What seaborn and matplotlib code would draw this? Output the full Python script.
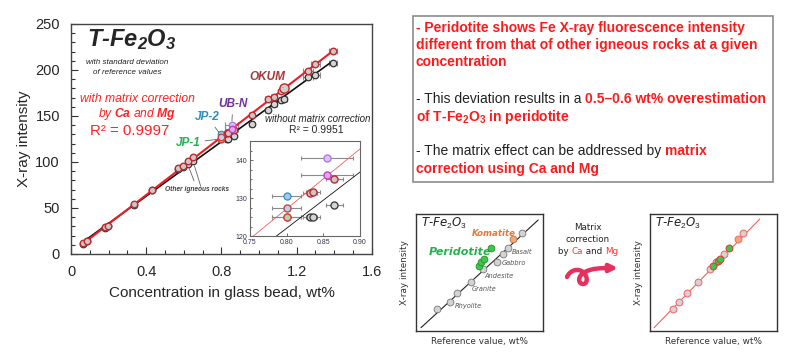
import numpy as np
import matplotlib
matplotlib.use("Agg")
import matplotlib.pyplot as plt
from matplotlib.patches import Rectangle, FancyArrowPatch
from matplotlib.path import Path
from matplotlib.ticker import MultipleLocator, FuncFormatter
import seaborn as sns

sns.set_style("white")
plt.rcParams['font.family'] = ['Liberation Sans', 'DejaVu Sans']
plt.rcParams['mathtext.fontset'] = 'custom'
plt.rcParams['mathtext.rm'] = 'Liberation Sans'
plt.rcParams['mathtext.it'] = 'Liberation Sans:italic'
plt.rcParams['mathtext.bf'] = 'Liberation Sans:bold'
plt.rcParams['mathtext.bfit'] = 'Liberation Sans:italic:bold'

##############################################################################
# data
##############################################################################
# other igneous rocks: concentration (wt%), intensity with / without correction
conc_other = [0.065, 0.087, 0.182, 0.198, 0.334, 0.432, 0.570, 0.596, 0.623,
              0.650, 0.832, 0.836, 0.865, 0.960, 1.046, 1.080, 1.119, 1.260,
              1.299, 1.393]
corr_other = [11.6, 14.5, 29.0, 30.4, 54.3, 69.6, 93.8, 96.0, 100.7, 105.0,
              131.3, 131.6, 135.0, 151.0, 168.5, 171.0, 177.5, 199.0, 206.0,
              221.0]
raw_other = [11.0, 14.0, 28.5, 30.0, 53.5, 69.0, 92.0, 94.0, 97.5, 100.5,
             125.0, 125.1, 128.3, 141.0, 156.5, 163.0, 167.4, 192.0, 194.6,
             207.0]
xerr_other = [0.003, 0.003, 0.004, 0.004, 0.005, 0.005, 0.006, 0.006, 0.006,
              0.006, 0.010, 0.010, 0.012, 0.012, 0.012, 0.015, 0.015, 0.025,
              0.025, 0.020]

# named reference samples
samples = ['JP-1', 'JP-2', 'UB-N', 'OKUM']
conc_named = [0.800, 0.800, 0.855, 1.133]
corr_named = [125.0, 127.5, 136.0, 180.0]
raw_named = [125.0, 130.5, 140.5, 168.0]
xerr_named = [0.020, 0.020, 0.035, 0.015]
face_raw = ['#a9dba0', '#9fcbe8', '#dcc2f5', '#d4d4d4']
face_corr = ['#a9dba0', '#b8d4ea', '#e2a6ee', '#d0d0d0']
edge_raw = ['#777777', '#3a8fc0', '#b070e0', '#333333']
edge_corr = ['#d04040', '#d04040', '#c040c0', '#c0282d']
label_col = ['#22b14c', '#2f8cc0', '#7030a0', '#a33a3a']
label_pos = [(0.622, 120.6), (0.723, 149.0), (0.861, 163.0), (1.042, 192.0)]
label_tip = [(0.795, 125.0), (0.795, 130.0), (0.855, 141.5), (1.128, 181.0)]

# schematic panels (axes fraction)
sch_x = [0.168, 0.267, 0.319, 0.432, 0.524, 0.634, 0.686, 0.725, 0.830]
sch_y = [0.191, 0.245, 0.328, 0.419, 0.527, 0.593, 0.655, 0.712, 0.840]
sch_names = ['Rhyolite', 'Granite', 'Andesite', 'Gabbro', 'Basalt']
sch_name_xy = [(0.306, 0.217), (0.437, 0.356), (0.534, 0.473), (0.673, 0.578),
               (0.751, 0.672)]
perid_x = [0.495, 0.508, 0.537, 0.589]
perid_y = [0.558, 0.590, 0.615, 0.707]
koma_xy = (0.759, 0.786)

cor_x = [0.179, 0.226, 0.289, 0.374, 0.468, 0.521, 0.579, 0.732]
cor_y = [0.191, 0.245, 0.328, 0.419, 0.527, 0.587, 0.655, 0.840]
cor_perid_x = [0.492, 0.532, 0.553, 0.624]
cor_perid_y = [0.558, 0.595, 0.618, 0.707]
cor_koma_xy = (0.692, 0.786)

##############################################################################
# figure
##############################################################################
fig = plt.figure(figsize=(8, 3.54), dpi=100)
fig.patch.set_facecolor('white')
rend = fig.canvas.get_renderer()


def colored_line(x, y, parts, size, family=None, ha='left'):
    # place several differently styled pieces of text one after another
    kw = {} if family is None else {'family': family}
    widths = []
    for s, c, wt in parts:
        t1 = fig.text(0, 0, s + '|', fontsize=size, fontweight=wt, **kw)
        t2 = fig.text(0, 0, '|', fontsize=size, fontweight=wt, **kw)
        wd = t1.get_window_extent(rend).width - t2.get_window_extent(rend).width
        t1.remove()
        t2.remove()
        widths.append(wd / fig.bbox.width)
    cur = x - sum(widths) / 2 if ha == 'center' else x
    for (s, c, wt), wd in zip(parts, widths):
        fig.text(cur, y, s, color=c, fontsize=size, fontweight=wt,
                 va='center', ha='left', **kw)
        cur += wd


def draw_data(ax, lw_line, s_pt, s_big, cap):
    conc_all = np.array(conc_other + conc_named)
    fit_c = np.polyfit(conc_all, corr_other + corr_named, 1)
    fit_r = np.polyfit(conc_all, raw_other + raw_named, 1)
    xs = np.array([conc_all.min(), conc_all.max()])
    for yy, ee in ((raw_other, xerr_other), (corr_other, xerr_other),
                   (raw_named, xerr_named), (corr_named, xerr_named)):
        cc = conc_other if len(yy) == len(conc_other) else conc_named
        ax.errorbar(cc, yy, xerr=ee, fmt='none', ecolor='#8a8a8a',
                    elinewidth=0.8, capsize=cap, capthick=0.8, zorder=1)
    sns.lineplot(x=xs + [0.015, 0], y=np.polyval(fit_r, xs + [0.015, 0]),
                 color='#111111', lw=lw_line[0], ax=ax, zorder=2)
    sns.lineplot(x=xs, y=np.polyval(fit_c, xs), color=lw_line[2],
                 lw=lw_line[1], ax=ax, zorder=2)
    sns.scatterplot(x=conc_other, y=raw_other, s=s_pt, color='#d4d4d4',
                    edgecolor='#333333', linewidth=0.9, ax=ax, zorder=3,
                    legend=False)
    sns.scatterplot(x=conc_other, y=corr_other, s=s_pt, color='#c8c8c8',
                    edgecolor='#c0282d', linewidth=1.0, ax=ax, zorder=4,
                    legend=False)
    for i in range(len(samples)):
        size = s_big if samples[i] == 'OKUM' else s_pt
        sns.scatterplot(x=[conc_named[i]], y=[raw_named[i]], s=s_pt,
                        color=face_raw[i], edgecolor=edge_raw[i],
                        linewidth=0.9, ax=ax, zorder=3, legend=False)
        sns.scatterplot(x=[conc_named[i]], y=[corr_named[i]], s=size,
                        color=face_corr[i], edgecolor=edge_corr[i],
                        linewidth=1.0, ax=ax, zorder=5, legend=False)


# ---------------------------------------------------------------- main plot
ax = fig.add_axes([0.0888, 0.2825, 0.376, 0.65])
draw_data(ax, (1.2, 1.5, '#ee1c24'), 22, 44, 2)
ax.set_xlim(0, 1.6)
ax.set_ylim(0, 250)
ax.xaxis.set_major_locator(MultipleLocator(0.4))
ax.xaxis.set_minor_locator(MultipleLocator(0.1))
ax.yaxis.set_major_locator(MultipleLocator(50))
ax.yaxis.set_minor_locator(MultipleLocator(10))
ax.xaxis.set_major_formatter(FuncFormatter(
    lambda v, p: '0' if abs(v) < 1e-9 else f'{v:.1f}'))
ax.tick_params(which='both', direction='in', width=0.8, color='#333333',
               labelsize=10.5, pad=8, bottom=True, left=True)
ax.tick_params(which='major', length=5)
ax.tick_params(which='minor', length=3)
for sp in ax.spines.values():
    sp.set_color('#444444')
    sp.set_linewidth(1.0)
ax.set_xlabel('Concentration in glass bead, wt%', fontsize=11, labelpad=5)
ax.set_ylabel('X-ray intensity', fontsize=11, labelpad=3)

ax.text(0.324, 232.6, r'T-Fe$_{\mathbfit{2}}$O$_{\mathbfit{3}}$', fontsize=17,
        fontweight='bold', style='italic', ha='center', va='center')
ax.text(0.298, 207.6, 'with standard deviation', fontsize=5.8,
        style='italic', ha='center', va='center', color='#222222')
ax.text(0.298, 196.7, 'of reference values', fontsize=5.8, style='italic',
        ha='center', va='center', color='#222222')
ax.text(0.351, 168.5, 'with matrix correction', fontsize=8.7, style='italic',
        color='#ff2020', ha='center', va='center')
ax.text(0.351, 152.2, r'by $\mathbfit{Ca}$ and $\mathbfit{Mg}$', fontsize=8.7,
        style='italic', color='#ff2020', ha='center', va='center')
ax.text(0.314, 133.7, 'R² = 0.9997', fontsize=10.8, color='#ff2020',
        ha='center', va='center')
ax.text(1.313, 146.7, 'without matrix correction', fontsize=7,
        style='italic', ha='center', va='center')
ax.text(1.302, 134.8, 'R² = 0.9951', fontsize=7.5, ha='center', va='center')

for i in range(len(samples)):
    ax.annotate(samples[i], xy=label_tip[i], xytext=label_pos[i],
                fontsize=8.5, fontweight='bold', style='italic',
                color=label_col[i], ha='center', va='center', zorder=6,
                arrowprops=dict(arrowstyle='-', color='#666666', lw=0.6,
                                shrinkA=1, shrinkB=2))
ax.annotate('Other igneous rocks', xy=(0.623, 96.5), xytext=(0.67, 70.6),
            fontsize=4.8, fontweight='bold', style='italic', color='#444444',
            ha='center', va='center', zorder=6,
            arrowprops=dict(arrowstyle='-', color='#666666', lw=0.6,
                            shrinkA=1, shrinkB=2))
ax.annotate('', xy=(0.652, 98.5), xytext=(0.69, 73.5),
            arrowprops=dict(arrowstyle='-', color='#666666', lw=0.6,
                            shrinkA=0, shrinkB=2))

# ---------------------------------------------------------------- inset
axi = fig.add_axes([0.3125, 0.3333, 0.1375, 0.268])
axi.set_facecolor('white')
draw_data(axi, (0.6, 0.6, '#f06060'), 26, 26, 1.5)
axi.set_xlim(0.75, 0.90)
axi.set_ylim(120, 145)
axi.set_xticks([0.75, 0.80, 0.85, 0.90])
axi.set_xticklabels(['0.75', '0.80', '0.85', '0.90'])
axi.set_yticks([120, 130, 140])
axi.yaxis.set_minor_locator(MultipleLocator(2.5))
axi.tick_params(which='both', direction='in', labelsize=5, pad=2,
                labelcolor='#33334a', color='#555555', width=0.6,
                bottom=True, left=True)
axi.tick_params(which='major', length=2.5)
axi.tick_params(which='minor', length=1.5)
for sp in axi.spines.values():
    sp.set_color('#666666')
    sp.set_linewidth(0.8)
axi.set_xlabel('')
axi.set_ylabel('')

# ---------------------------------------------------------------- text box
fig.add_artist(Rectangle((0.516, 0.486), 0.45, 0.469, transform=fig.transFigure,
                         fill=False, edgecolor='#8c8c8c', lw=1.2))
red = '#ff1a1a'
bx = 0.52
fs = 10
colored_line(bx, 1 - 28 / 354,
             [('- Peridotite shows Fe X-ray fluorescence intensity', red, 'bold')], fs)
colored_line(bx, 1 - 45 / 354,
             [('different from that of other igneous rocks at a given', red, 'bold')], fs)
colored_line(bx, 1 - 62 / 354, [('concentration', red, 'bold')], fs)
colored_line(bx, 1 - 99 / 354,
             [('- This deviation results in a ', '#222222', 'normal'),
              ('0.5\u20130.6 wt% overestimation', red, 'bold')], fs)
colored_line(bx, 1 - 117 / 354,
             [(r'of T-Fe$_{\mathbf{2}}$O$_{\mathbf{3}}$ in peridotite', red, 'bold')], fs)
colored_line(bx, 1 - 151 / 354,
             [('- The matrix effect can be addressed by ', '#222222', 'normal'),
              ('matrix', red, 'bold')], fs)
colored_line(bx, 1 - 169 / 354, [('correction using Ca and Mg', red, 'bold')], fs)

# ---------------------------------------------------------------- schematics
dj = 'DejaVu Sans'
grey_txt = '#555555'

axl = fig.add_axes([0.52, 0.065, 0.159, 0.3305])
axr = fig.add_axes([0.8125, 0.065, 0.159, 0.3305])
for a in (axl, axr):
    a.set_xlim(0, 1)
    a.set_ylim(0, 1)
    a.set_xticks([])
    a.set_yticks([])
    for sp in a.spines.values():
        sp.set_color('#333333')
        sp.set_linewidth(1.0)
    a.set_xlabel('Reference value, wt%', fontsize=6.4, family=dj,
                 color='#333333', labelpad=4)
    a.set_ylabel('X-ray intensity', fontsize=6.4, family=dj, color='#333333',
                 labelpad=5)
    a.text(0.04, 0.915, r'T-Fe$_{\mathit{2}}$O$_{\mathit{3}}$', fontsize=8.5,
           family=dj, style='italic', ha='left', va='center', color='#222222')

sns.lineplot(x=[0.039, 0.961], y=[0.028, 0.949], color='#222222', lw=0.8,
             ax=axl)
sns.scatterplot(x=sch_x, y=sch_y, s=24, color='#d3d3d3', edgecolor='#777777',
                linewidth=0.6, ax=axl, zorder=3, legend=False)
sns.scatterplot(x=[koma_xy[0]], y=[koma_xy[1]], s=24, color='#f4a77a',
                edgecolor='#c07040', linewidth=0.6, ax=axl, zorder=3,
                legend=False)
sns.scatterplot(x=perid_x, y=perid_y, s=24, color='#3cc84a',
                edgecolor='#2a8a30', linewidth=0.6, ax=axl, zorder=4,
                legend=False)
for nm, (tx, ty) in zip(sch_names, sch_name_xy):
    axl.text(tx, ty, nm, fontsize=4.8, family=dj, style='italic',
             color=grey_txt, ha='left', va='center')
axl.text(0.437, 0.835, 'Komatite', fontsize=6.2, family=dj,
         style='italic', fontweight='bold', color='#e07a3c', ha='left',
         va='center')
axl.text(0.097, 0.672, 'Peridotite', fontsize=8, family=dj, style='italic',
         fontweight='bold', color='#22b14c', ha='left', va='center')

sns.lineplot(x=[0.032, 0.863], y=[0.028, 0.957], color='#f06060', lw=0.8,
             ax=axr)
sns.scatterplot(x=cor_x, y=cor_y, s=24, color='#d3d3d3', edgecolor='#f07070',
                linewidth=0.8, ax=axr, zorder=3, legend=False)
sns.scatterplot(x=[cor_koma_xy[0]], y=[cor_koma_xy[1]], s=24, color='#f4a77a',
                edgecolor='#f07070', linewidth=0.8, ax=axr, zorder=3,
                legend=False)
sns.scatterplot(x=cor_perid_x, y=cor_perid_y, s=24, color='#3cc84a',
                edgecolor='#e04040', linewidth=0.8, ax=axr, zorder=4,
                legend=False)

# middle label and curly arrow
fig.text(588 / 800, 1 - 227 / 354, 'Matrix', fontsize=6.3, family=dj,
         ha='center', va='center', color='#222222')
fig.text(588 / 800, 1 - 239 / 354, 'correction', fontsize=6.3, family=dj,
         ha='center', va='center', color='#222222')
colored_line(588 / 800, 1 - 251 / 354,
             [('by ', '#222222', 'normal'), ('Ca', '#ff3030', 'normal'),
              (' and ', '#222222', 'normal'), ('Mg', '#ff3030', 'normal')],
             6.3, family=dj, ha='center')

axa = fig.add_axes([565 / 800, 1 - 287 / 354, 55 / 800, 27 / 354])
axa.set_xlim(565, 620)
axa.set_ylim(287, 260)
axa.axis('off')
verts = [(567, 277), (570, 270), (578, 268), (583, 272),
         (588, 276), (588, 284), (583, 284),
         (578, 284), (577, 276), (585, 272),
         (592, 268), (602, 268), (618, 268)]
codes = [Path.MOVETO] + [Path.CURVE4] * 12
arrow = FancyArrowPatch(path=Path(verts, codes), arrowstyle='-|>',
                        mutation_scale=11, lw=3.2, color='#e6305e',
                        capstyle='round', joinstyle='round')
axa.add_patch(arrow)

plt.savefig('out.png', dpi=100, facecolor='white')
